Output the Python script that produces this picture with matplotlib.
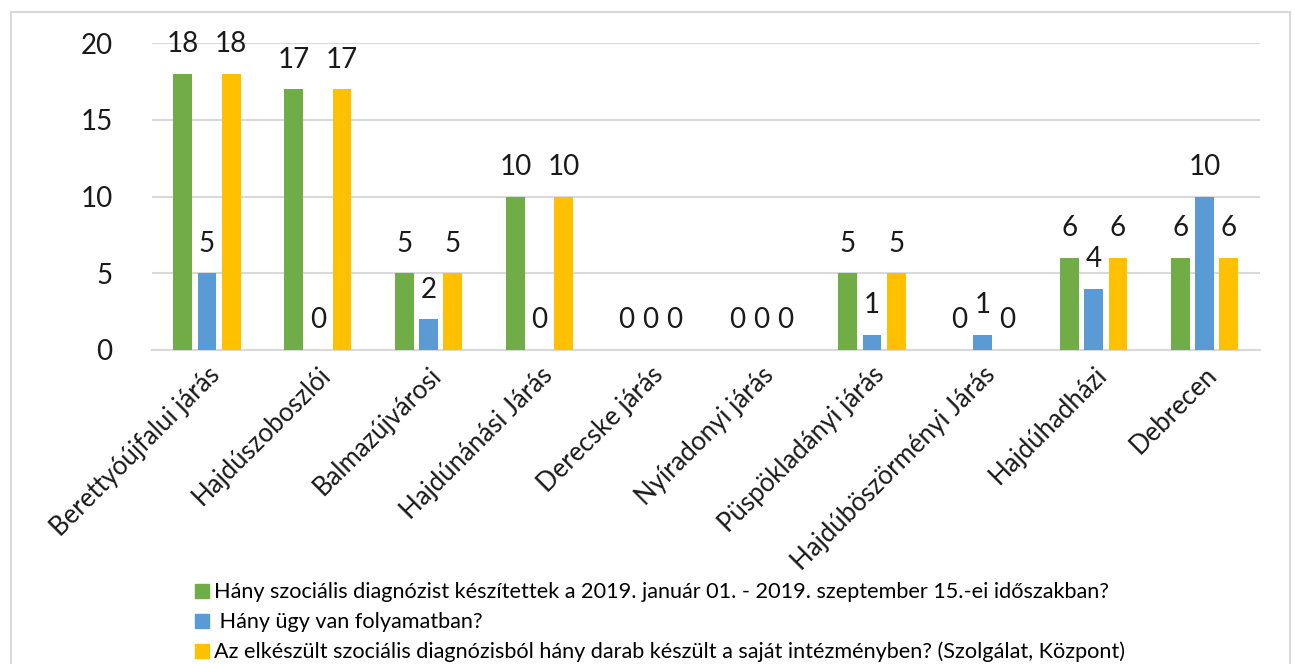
import numpy as np
from matplotlib import pyplot as plt
from matplotlib.lines import Line2D

categories = ['Berettyóújfalui járás', 'Hajdúszoboszlói', 'Balmazújvárosi',
              'Hajdúnánási Járás', 'Derecske járás', 'Nyíradonyi járás',
              'Püspökladányi járás', 'Hajdúböszörményi Járás', 'Hajdúhadházi',
              'Debrecen']
diag_total = [18, 17, 5, 10, 0, 0, 5, 0, 6, 6]
in_progress = [5, 0, 2, 0, 0, 0, 1, 1, 4, 10]
own_inst = [18, 17, 5, 10, 0, 0, 5, 0, 6, 6]
series_names = ['Hány szociális diagnózist készítettek a 2019. január 01. - 2019. szeptember 15.-ei időszakban?',
                ' Hány ügy van folyamatban?',
                'Az elkészült szociális diagnózisból hány darab készült a saját intézményben? (Szolgálat, Központ)']
colors = ['#70AD47', '#5B9BD5', '#FFC000']

plt.rcParams['font.family'] = ['Lato', 'DejaVu Sans']

fig = plt.figure(figsize=(12.95, 6.64), dpi=100)
ax = fig.add_axes([0.117, 0.473, 0.856, 0.462])

x = np.arange(len(categories))
w = 0.17
offs = [-0.218, 0, 0.218]
for vals, off, c in zip([diag_total, in_progress, own_inst], offs, colors):
  b = ax.bar(x + off, vals, w, color=c, zorder=3)
  ax.bar_label(b, padding=12, fontsize=20, color='#1a1a1a')

ax.set_xlim(-0.5, len(categories) - 0.5)
ax.set_ylim(0, 20)
ax.set_yticks([0, 5, 10, 15, 20])
ax.tick_params(axis='y', labelsize=20, length=0, pad=28, colors='#1a1a1a')
ax.set_xticks(x)
ax.set_xticklabels(categories, rotation=45, ha='right', rotation_mode='anchor', fontsize=18.5)
ax.tick_params(axis='x', length=0, pad=9, colors='#1a1a1a')
ax.grid(axis='y', color='#d9d9d9', linewidth=1.5, zorder=0)
for s in ['top', 'right', 'left']:
  ax.spines[s].set_visible(False)
ax.spines['bottom'].set_color('#d9d9d9')
ax.spines['bottom'].set_linewidth(1.5)

handles = [Line2D([], [], marker='s', linestyle='none', markersize=10, color=c) for c in colors]
fig.legend(handles, series_names, loc='upper left', bbox_to_anchor=(0.142, 0.136),
           frameon=False, fontsize=15.6, handletextpad=0.1, labelspacing=0.45,
           borderaxespad=0, handlelength=0.9)

# chart frame
fig.add_artist(Line2D([0.0085, 0.0085], [0.982, 0], color='#d9d9d9', lw=1.5, transform=fig.transFigure))
fig.add_artist(Line2D([0.996, 0.996], [0.982, 0], color='#d9d9d9', lw=1.5, transform=fig.transFigure))
fig.add_artist(Line2D([0.0085, 0.996], [0.982, 0.982], color='#d9d9d9', lw=1.5, transform=fig.transFigure))

fig.savefig('out.png', dpi=100)
